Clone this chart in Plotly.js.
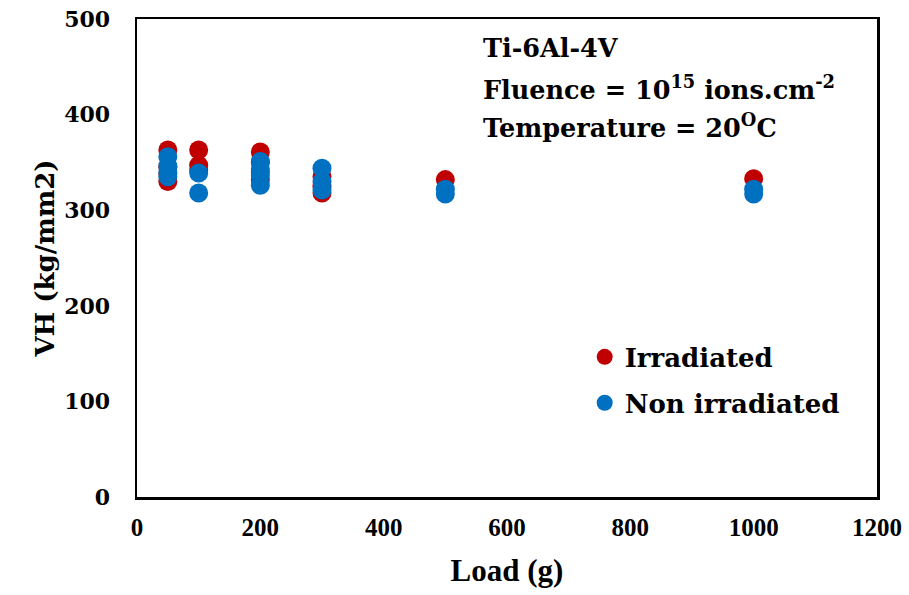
<!DOCTYPE html>
<html>
<head>
<meta charset="utf-8">
<script src="https://cdn.plot.ly/plotly-3.0.1.min.js"></script>
<style>html,body{margin:0;padding:0;background:#fff;}#chart{width:909px;height:595px;}</style>
</head>
<body>
<div id="chart"></div>
<script>
// Data
const irrLoad = [50, 50, 50, 50, 100, 100, 100, 200, 200, 200, 200, 300, 300, 300, 500, 1000];
const irrVH   = [363, 345, 338, 330, 363, 347, 342, 361, 350, 340, 332, 335, 325, 318, 332, 333];
const nonLoad = [50, 50, 50, 50, 100, 100, 200, 200, 200, 200, 300, 300, 300, 500, 500, 1000, 1000];
const nonVH   = [356, 346, 340, 335, 339, 318, 351, 343, 336, 326, 344, 330, 321, 322, 317, 322, 317];
const xTicks = [0, 200, 400, 600, 800, 1000, 1200];
const yTicks = [0, 100, 200, 300, 400, 500];
const noteLines = [
  'Ti-6Al-4V',
  'Fluence = 10<sup>15</sup> ions.cm<sup>-2</sup>',
  'Temperature = 20<sup>O</sup>C'
];

const serif = 'DejaVu Serif, Liberation Serif, serif';
const narrow = 'Liberation Serif, Times New Roman, serif';

const traces = [
  {x: irrLoad, y: irrVH, mode: 'markers', type: 'scatter', name: '<b>Irradiated</b>',
   marker: {color: '#C00000', size: 19}, legend: 'legend'},
  {x: nonLoad, y: nonVH, mode: 'markers', type: 'scatter', name: '<b>Non irradiated</b>',
   marker: {color: '#0070C0', size: 19}, legend: 'legend2'}
];

const legendBase = {
  xanchor: 'left', yanchor: 'middle',
  font: {family: serif, size: 26, color: '#000'},
  bgcolor: 'rgba(0,0,0,0)', itemsizing: 'trace', itemwidth: 30
};

const noteY = [0.939, 0.856, 0.776];

const layout = {
  width: 909, height: 595,
  margin: {l: 137, r: 32, t: 19, b: 98},
  paper_bgcolor: '#fff', plot_bgcolor: '#fff',
  showlegend: true,
  xaxis: {
    range: [0, 1200], tickvals: xTicks, ticktext: xTicks.map(v => '<b>' + v + '</b>'),
    showgrid: false, zeroline: false, showline: true, linecolor: '#000', linewidth: 2.5, mirror: true,
    ticks: '', ticklen: 0, ticklabelstandoff: 6, tickfont: {family: narrow, size: 25, color: '#000'},
    title: {text: '<b>Load (g)</b>', font: {family: narrow, size: 31, color: '#000'}, standoff: 20}
  },
  yaxis: {
    range: [0, 500], tickvals: yTicks, ticktext: yTicks.map(v => '<b>' + v + '</b>'),
    showgrid: false, zeroline: false, showline: true, linecolor: '#000', linewidth: 2.5, mirror: true,
    ticks: '', ticklen: 0, ticklabelstandoff: 20, tickfont: {family: serif, size: 22, color: '#000'},
    title: {text: '<b>VH (kg/mm2)</b>', font: {family: serif, size: 26, color: '#000'}, standoff: 2}
  },
  legend: Object.assign({x: 0.605, y: 0.293}, legendBase),
  legend2: Object.assign({x: 0.605, y: 0.197}, legendBase),
  annotations: noteLines.map((t, i) => ({
    xref: 'paper', yref: 'paper', x: 0.465, y: noteY[i], xanchor: 'left', yanchor: 'middle',
    align: 'left', showarrow: false, text: '<b>' + t + '</b>',
    font: {family: serif, size: 25.5, color: '#000'}
  }))
};

Plotly.newPlot('chart', traces, layout, {displayModeBar: false, staticPlot: true});
</script>
</body>
</html>
